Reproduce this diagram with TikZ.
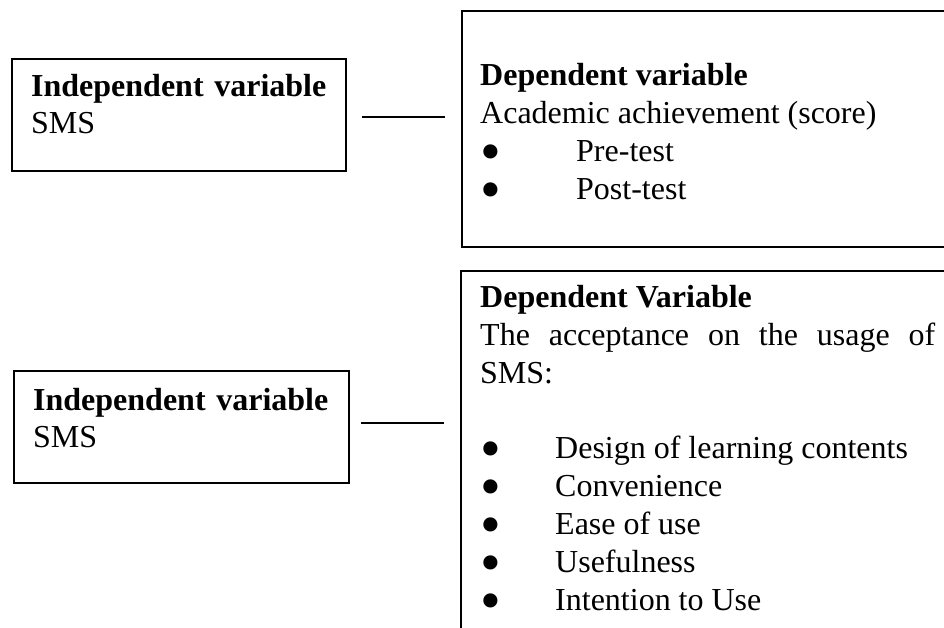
\documentclass[tikz,border=0pt]{standalone}
\usepackage{fontspec}
\setmainfont{Liberation Serif}

\newcommand{\bul}[2]{\makebox[#1][l]{\raisebox{-9.5pt}[0pt][0pt]{\scalebox{1.85}{\textbullet}}}#2}

\begin{document}
\begin{tikzpicture}[x=1pt,y=1pt,
        box/.style={draw, line width=1.8pt, inner sep=0pt, anchor=north west},
        txt/.style={inner sep=0pt, anchor=base west, text width=455pt},
        lft/.style={txt, align=left, font=\fontsize{32}{36.5}\selectfont},
        rgt/.style={txt, align=justify, font=\fontsize{32}{38}\selectfont},
        link/.style={line width=1.8pt}]
                \useasboundingbox (0,0) rectangle (944,628);
                \clip (0,0) rectangle (944,628);

                \node[box] (iv1) at (11,570)  [minimum width=334pt, minimum height=112pt] {};
                \node[box] (dv1) at (461,618) [minimum width=520pt, minimum height=236pt] {};
                \node[box] (iv2) at (13,258)  [minimum width=335pt, minimum height=112pt] {};
                \node[box] (dv2) at (460,358) [minimum width=520pt, minimum height=400pt] {};

                \node[lft] (iv1txt) at ([shift={(20pt,-39pt)}]iv1.north west)
                        {\textbf{Independent variable}\\SMS};
                \node[lft] (iv2txt) at ([shift={(20pt,-41pt)}]iv2.north west)
                        {\textbf{Independent variable}\\SMS};
                \node[rgt] (dv1txt) at ([shift={(19pt,-76pt)}]dv1.north west)
                        {\textbf{Dependent variable}\\
                         Academic achievement (score)\\
                         \bul{96pt}{Pre-test}\\
                         \bul{96pt}{Post-test}};
                \node[rgt] (dv2txt) at ([shift={(20pt,-38pt)}]dv2.north west)
                        {\textbf{Dependent Variable}\\
                         The acceptance on the usage of\linebreak SMS:\\[37pt]
                         \bul{75pt}{Design of learning contents}\\
                         \bul{75pt}{Convenience}\\
                         \bul{75pt}{Ease of use}\\
                         \bul{75pt}{Usefulness}\\
                         \bul{75pt}{Intention to Use}};

                    \draw[link, shorten <=15pt, shorten >=16pt]
                             ([yshift=-2pt]iv1.east) edge ([yshift=-2pt]iv1.east -| dv1.west);
                    \draw[link, shorten <=11pt, shorten >=16pt]
                             ([yshift=4pt]iv2.east) edge ([yshift=4pt]iv2.east -| dv2.west);
\end{tikzpicture}
\end{document}
